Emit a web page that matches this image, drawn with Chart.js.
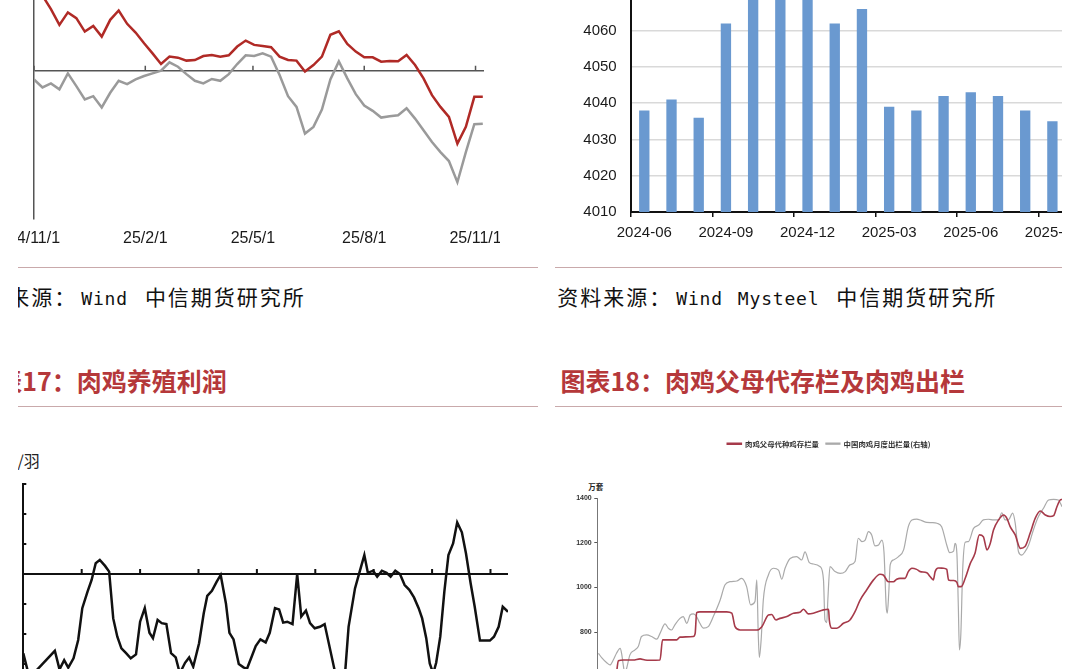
<!DOCTYPE html>
<html lang="zh-CN">
<head>
<meta charset="utf-8">
<title>肉鸡养殖利润 / 肉鸡父母代存栏及肉鸡出栏</title>
<script src="https://cdn.jsdelivr.net/npm/chart.js@4.4.1/dist/chart.umd.min.js"></script>
<style>
  html, body { margin: 0; padding: 0; background: #fff; }
  body { width: 1080px; height: 669px; overflow: hidden; position: relative; font-family: "Noto Sans CJK SC", sans-serif; }
  .col { position: absolute; top: 0; height: 669px; overflow: hidden; }
  .inner { position: absolute; top: 0; width: 1120px; height: 669px; }
  canvas { position: absolute; }
  .rule { position: absolute; height: 0; border-top: 1.5px solid #c9a9ab; }
  .src { position: absolute; white-space: nowrap; color: #111; line-height: 24px; }
  .cj { font-family: "Noto Sans CJK SC"; font-size: 21px; letter-spacing: 2px; }
  .la { font-family: "DejaVu Sans Mono"; font-size: 18px; letter-spacing: 0.8px; }
  .ttl { position: absolute; white-space: nowrap; color: #b5383a; font-weight: bold; font-size: 25px; line-height: 26px; }
  .unit { position: absolute; white-space: nowrap; color: #222; }
</style>
</head>
<body>

<div class="col" style="left:18px; width:527px;">
  <div class="inner" style="left:-18px;">
    <canvas id="chartA" width="500" height="340" style="left:0; top:-90px; width:500px; height:340px;"></canvas>
    <div class="rule" style="left:0; width:538px; top:267px;"></div>
    <div class="src" style="left:-37.7px; top:284px;"><span class="cj">资料来源：</span><span class="la" style="margin-left:4px">Wind</span><span class="cj" style="margin-left:17px">中信期货研究所</span></div>
    <div class="ttl" style="left:-27.7px; top:367px;">图表17：肉鸡养殖利润</div>
    <div class="rule" style="left:0; width:538px; top:406px;"></div>
    <div class="unit" style="left:1.6px; top:452px; font-size:16px; line-height:17px;">元/羽</div>
    <canvas id="chartC" width="540" height="260" style="left:0; top:440px; width:540px; height:260px;"></canvas>
  </div>
</div>

<div class="col" style="left:548px; width:514px;">
  <div class="inner" style="left:-548px;">
    <canvas id="chartB" width="560" height="310" style="left:560px; top:-60px; width:560px; height:310px;"></canvas>
    <div class="rule" style="left:555px; width:520px; top:267px;"></div>
    <div class="src" style="left:557.3px; top:284px;"><span class="cj">资料来源：</span><span class="la" style="margin-left:4px">Wind</span><span class="la" style="margin-left:15px">Mysteel</span><span class="cj" style="margin-left:17px">中信期货研究所</span></div>
    <div class="ttl" style="left:560.5px; top:367px;">图表18：肉鸡父母代存栏及肉鸡出栏</div>
    <div class="rule" style="left:555px; width:520px; top:406px;"></div>
    <div class="unit" style="left:588.3px; top:482px; font-size:7.5px; line-height:9px; font-weight:bold;">万套</div>
    <canvas id="chartD" width="560" height="257" style="left:560px; top:420px; width:560px; height:257px;"></canvas>
  </div>
</div>

<script>
// ---- top-left: weekly series (y labels are cut off in the source image) ----
const weekDates = [
  '2024-11-01','2024-11-08','2024-11-15','2024-11-22','2024-11-29','2024-12-06','2024-12-13','2024-12-20','2024-12-27',
  '2025-01-03','2025-01-10','2025-01-17','2025-01-24','2025-01-31','2025-02-07','2025-02-14','2025-02-21','2025-02-28',
  '2025-03-07','2025-03-14','2025-03-21','2025-03-28','2025-04-04','2025-04-11','2025-04-18','2025-04-25',
  '2025-05-02','2025-05-09','2025-05-16','2025-05-23','2025-05-30','2025-06-06','2025-06-13','2025-06-20','2025-06-27',
  '2025-07-04','2025-07-11','2025-07-18','2025-07-25','2025-08-01','2025-08-08','2025-08-15','2025-08-22','2025-08-29',
  '2025-09-05','2025-09-12','2025-09-19','2025-09-26','2025-10-03','2025-10-10','2025-10-17','2025-10-24','2025-10-31','2025-11-07'
];
const redWeekly = [5.5, 5.06, 4.15, 3.09, 3.93, 3.54, 2.64, 3.02, 2.30, 3.43, 4.06, 3.16, 2.57, 1.85, 1.17, 0.45, 0.95, 0.88,
  0.68, 0.72, 0.99, 1.06, 0.95, 1.04, 1.63, 2.03, 1.74, 1.67, 1.58, 0.95, 0.72, 0.68, -0.05, 0.38, 0.95, 2.42, 2.66, 1.81,
  1.29, 0.90, 0.90, 0.61, 0.65, 0.63, 1.06, 0.38, -0.52, -1.65, -2.44, -3.12, -4.92, -3.79, -1.76, -1.76];
const grayWeekly = [-0.59, -1.13, -0.86, -1.26, -0.18, -1.04, -1.94, -1.72, -2.48, -1.49, -0.68, -0.90, -0.59, -0.36, -0.18, 0.00,
  0.56, 0.27, -0.23, -0.68, -0.86, -0.56, -0.68, -0.23, 0.45, 1.04, 0.99, 1.17, 0.95, -0.29, -1.72, -2.44, -4.24, -3.79, -2.62,
  -0.59, 0.63, -0.52, -1.58, -2.35, -2.71, -3.16, -3.07, -3.00, -2.53, -3.23, -4.02, -4.81, -5.49, -6.09, -7.52, -5.49, -3.61, -3.57];
const weekTickDates = ['2024-11-01', '2025-02-01', '2025-05-01', '2025-08-01', '2025-11-01'];
const weekTickLabels = ['24/11/1', '25/2/1', '25/5/1', '25/8/1', '25/11/1'];
const weekAxisEnd = '2025-11-08';

// ---- top-right: monthly bars ----
const barMonths = ['2024-06','2024-07','2024-08','2024-09','2024-10','2024-11','2024-12','2025-01',
  '2025-02','2025-03','2025-04','2025-05','2025-06','2025-07','2025-08','2025-09'];
const barValues = [4038, 4041, 4036, 4062, 4071, 4074, 4072, 4062, 4066, 4039, 4038, 4042, 4043, 4042, 4038, 4035];

// ---- bottom-left: 肉鸡养殖利润 (元/羽), time in decimal years ----
const profitTime = [2017.50, 2017.60, 2017.73, 2018.04, 2018.12, 2018.20, 2018.27, 2018.36, 2018.44, 2018.51,
  2018.60, 2018.67, 2018.74, 2018.81, 2018.90, 2018.97, 2019.04, 2019.11, 2019.18, 2019.26,
  2019.34, 2019.43, 2019.50, 2019.58, 2019.66, 2019.72, 2019.80, 2019.87, 2019.95, 2020.03,
  2020.11, 2020.18, 2020.27, 2020.34, 2020.41, 2020.51, 2020.59, 2020.65, 2020.73, 2020.81,
  2020.88, 2020.97, 2021.03, 2021.10, 2021.19, 2021.27, 2021.33, 2021.41, 2021.48, 2021.56,
  2021.65, 2021.72, 2021.81, 2021.88, 2021.95, 2022.02, 2022.11, 2022.19, 2022.26, 2022.34,
  2022.41, 2022.49, 2022.58, 2022.66, 2022.83, 2022.92, 2023.01, 2023.07, 2023.18, 2023.26,
  2023.34, 2023.40, 2023.49, 2023.56, 2023.64, 2023.72, 2023.79, 2023.87, 2023.95, 2024.03,
  2024.11, 2024.19, 2024.27, 2024.33, 2024.40, 2024.46, 2024.52, 2024.57, 2024.64, 2024.71,
  2024.78, 2024.86, 2024.93, 2025.01, 2025.08, 2025.16, 2025.23, 2025.32, 2025.49, 2025.56,
  2025.64, 2025.71, 2025.80];
const profitValue = [-2.64, -3.42, -3.20, -2.56, -3.18, -2.87, -3.12, -2.81, -2.20, -1.14,
  -0.59, -0.20, 0.36, 0.47, 0.27, 0.08, -1.48, -2.09, -2.48, -2.64,
  -2.81, -2.68, -1.59, -1.14, -1.96, -2.14, -1.53, -1.64, -1.67, -2.64,
  -2.78, -3.31, -2.96, -2.78, -3.09, -2.31, -1.31, -0.73, -0.56, -0.26,
  -0.03, -0.98, -1.96, -2.18, -3.00, -3.11, -3.16, -2.76, -2.40, -2.18,
  -2.28, -1.96, -1.14, -1.18, -1.62, -1.59, -1.67, 0.00, -1.42, -1.22,
  -1.64, -1.81, -1.76, -1.67, -3.20, -3.64, -3.31, -1.76, -0.48, 0.08,
  0.63, 0.04, 0.11, -0.09, 0.11, 0.04, -0.09, 0.11, 0.00, -0.37,
  -0.53, -0.78, -1.14, -1.48, -2.14, -2.98, -3.31, -2.96, -2.09, -0.59,
  0.63, 1.02, 1.72, 1.39, 0.69, -0.31, -1.09, -2.22, -2.22, -2.09,
  -1.76, -1.09, -1.26];
const profitTicks = [2018.5, 2019.5, 2020.5, 2021.5, 2022.5, 2023.5, 2024.5, 2025.5];

// ---- bottom-right: 父母代种鸡存栏 (万套, left) / 肉鸡月度出栏 (right axis) ----
const stockTime = [2013.53, 2013.58, 2013.72, 2013.99, 2014.18, 2014.32, 2014.45, 2014.73, 2014.80, 2014.87,
  2015.19, 2015.28, 2015.65, 2015.70, 2015.74, 2015.83, 2016.57, 2016.71, 2016.80, 2016.94,
  2017.40, 2017.54, 2017.72, 2017.81, 2017.93, 2018.04, 2018.23, 2018.41, 2018.59, 2018.69,
  2018.82, 2018.96, 2019.24, 2019.38, 2019.40, 2019.47, 2019.61, 2019.79, 2019.97, 2020.11,
  2020.25, 2020.43, 2020.62, 2020.80, 2020.89, 2021.03, 2021.17, 2021.26, 2021.35, 2021.49,
  2021.58, 2021.68, 2021.81, 2021.91, 2022.09, 2022.18, 2022.27, 2022.32, 2022.41, 2022.55,
  2022.64, 2022.69, 2022.83, 2022.92, 2022.96, 2023.04, 2023.15, 2023.29, 2023.42, 2023.54,
  2023.65, 2023.75, 2023.84, 2023.93, 2024.07, 2024.21, 2024.30, 2024.39, 2024.53, 2024.67,
  2024.80, 2024.94, 2025.08, 2025.22, 2025.36, 2025.49, 2025.59, 2025.68, 2025.77, 2025.82];
const stockValue = [617, 673, 676, 676, 681, 676, 675, 676, 766, 766,
  766, 778, 781, 795, 888, 891, 891, 885, 825, 810,
  810, 825, 877, 879, 855, 862, 870, 885, 889, 903,
  882, 885, 900, 903, 855, 818, 818, 840, 855, 892,
  944, 989, 1034, 1059, 1056, 1026, 1026, 1037, 1041, 1041,
  1071, 1086, 1081, 1071, 1066, 1049, 1034, 1071, 1087, 1086,
  1081, 1034, 1031, 1023, 1004, 1004, 1041, 1108, 1153, 1235,
  1227, 1168, 1197, 1257, 1302, 1324, 1309, 1272, 1235, 1175,
  1183, 1242, 1309, 1342, 1324, 1317, 1321, 1361, 1391, 1394];
const outputTime = [2013.03, 2013.12, 2013.26, 2013.35, 2013.44, 2013.53, 2013.63, 2013.67, 2013.72, 2013.76,
  2013.81, 2013.90, 2014.04, 2014.13, 2014.22, 2014.36, 2014.50, 2014.64, 2014.73, 2014.87,
  2014.96, 2015.05, 2015.14, 2015.28, 2015.37, 2015.47, 2015.56, 2015.65, 2015.74, 2015.83,
  2015.93, 2016.06, 2016.20, 2016.39, 2016.52, 2016.66, 2016.85, 2016.98, 2017.12, 2017.23,
  2017.35, 2017.40, 2017.44, 2017.47, 2017.52, 2017.58, 2017.72, 2017.86, 2018.00, 2018.09,
  2018.18, 2018.32, 2018.50, 2018.64, 2018.73, 2018.85, 2018.96, 2019.15, 2019.24, 2019.28,
  2019.33, 2019.36, 2019.42, 2019.56, 2019.70, 2019.84, 2019.97, 2020.11, 2020.20, 2020.30,
  2020.39, 2020.48, 2020.57, 2020.66, 2020.76, 2020.85, 2020.91, 2020.97, 2021.00, 2021.04,
  2021.08, 2021.17, 2021.31, 2021.45, 2021.58, 2021.68, 2021.81, 2021.95, 2022.09, 2022.23,
  2022.37, 2022.50, 2022.64, 2022.72, 2022.83, 2022.87, 2022.92, 2022.96, 2022.99, 2023.03,
  2023.08, 2023.15, 2023.24, 2023.38, 2023.52, 2023.65, 2023.79, 2023.93, 2024.07, 2024.16,
  2024.25, 2024.34, 2024.46, 2024.53, 2024.62, 2024.71, 2024.80, 2024.90, 2025.03, 2025.17,
  2025.31, 2025.45, 2025.59, 2025.72, 2025.82];
const outputValue = [5.06, 4.87, 4.64, 4.54, 4.76, 5.06, 5.28, 5.06, 4.50, 4.17,
  4.39, 4.99, 5.21, 5.36, 5.81, 5.88, 5.81, 5.69, 5.95, 6.37,
  6.18, 6.10, 6.33, 6.62, 6.70, 6.40, 6.77, 6.82, 6.70, 6.40,
  6.18, 6.25, 6.70, 7.44, 8.11, 8.26, 8.29, 8.41, 8.04, 7.22,
  7.37, 8.34, 5.95, 4.88, 5.66, 7.44, 8.56, 8.86, 8.78, 8.37,
  8.86, 9.30, 9.38, 9.23, 9.59, 9.11, 9.05, 8.93, 8.34, 6.55,
  6.43, 7.44, 8.93, 8.71, 8.63, 8.71, 9.01, 9.16, 10.20, 10.05,
  10.12, 10.50, 10.35, 9.86, 9.90, 10.12, 9.56, 7.15, 6.85, 7.74,
  9.01, 9.23, 9.38, 9.68, 10.72, 11.02, 11.06, 10.99, 10.91, 10.90,
  10.87, 10.72, 9.90, 9.56, 9.63, 9.97, 9.53, 7.15, 5.21, 5.95,
  8.78, 10.02, 10.05, 10.64, 10.79, 11.02, 11.05, 11.02, 11.02, 11.34,
  11.02, 11.02, 11.32, 10.87, 9.60, 9.45, 9.60, 9.90, 10.57, 11.17,
  11.54, 11.91, 11.94, 11.91, 11.61];
const legendNames = ['肉鸡父母代种鸡存栏量', '中国肉鸡月度出栏量(右轴)'];

Chart.defaults.font.family = "'Liberation Sans', Arial, sans-serif";
Chart.defaults.animation = false;
Chart.defaults.plugins.tooltip.enabled = false;
Chart.defaults.events = [];

const dayOf = d => (Date.parse(d) - Date.parse(weekDates[0])) / 86400000;
const pairs = (xs, ys) => xs.map((x, i) => ({ x: x, y: ys[i] }));
const clear = 'rgba(0,0,0,0)';
// keep the plot area where the padding puts it (no extra room for overhanging labels)
const noOverhang = s => { s.paddingTop = 0; s.paddingBottom = 0; s.paddingLeft = 0; s.paddingRight = 0; };

// short tick marks sitting on the zero line / inside the y axis
const innerTicks = {
  id: 'innerTicks',
  afterDatasetsDraw(chart, args, opts) {
    const { ctx, scales: { x, y }, chartArea } = chart;
    const base = y.getPixelForValue(opts.at);
    ctx.save();
    ctx.strokeStyle = opts.color;
    ctx.lineWidth = opts.width;
    ctx.beginPath();
    (opts.xValues || []).forEach(v => {
      const px = x.getPixelForValue(v);
      ctx.moveTo(px, base);
      ctx.lineTo(px, base - opts.xLen);
    });
    if (opts.yLen) {
      y.ticks.forEach(t => {
        const py = y.getPixelForValue(t.value);
        ctx.moveTo(chartArea.left, py);
        ctx.lineTo(chartArea.left + opts.yLen, py);
      });
    }
    ctx.stroke();
    ctx.restore();
  }
};

// 1. top-left weekly lines
new Chart(document.getElementById('chartA'), {
  type: 'line',
  data: {
    datasets: [
      { data: pairs(weekDates.map(dayOf), redWeekly), borderColor: '#b02a26', borderWidth: 2.5, pointRadius: 0, tension: 0 },
      { data: pairs(weekDates.map(dayOf), grayWeekly), borderColor: '#9a9a9a', borderWidth: 2.5, pointRadius: 0, tension: 0 }
    ]
  },
  options: {
    responsive: false,
    layout: { padding: { left: 34, right: 16, top: 12.4, bottom: 0 } },
    plugins: {
      legend: { display: false },
      innerTicks: { at: 0, xValues: weekTickDates.map(dayOf), xLen: 5, color: '#555', width: 1.5 }
    },
    scales: {
      x: {
        type: 'linear', min: 0, max: dayOf(weekAxisEnd),
        afterBuildTicks: s => { s.ticks = weekTickDates.map(d => ({ value: dayOf(d) })); },
        afterFit: s => { s.height = 31; noOverhang(s); },
        grid: { display: false, drawTicks: false },
        border: { display: false },
        ticks: {
          autoSkip: false, maxRotation: 0, padding: 10, color: '#1a1a1a', font: { size: 16 },
          callback: v => weekTickLabels[weekTickDates.map(dayOf).indexOf(v)]
        }
      },
      y: {
        min: -10, max: 10,
        ticks: { display: false, stepSize: 5 },
        afterFit: s => { s.width = 0; noOverhang(s); },
        grid: { drawTicks: false, lineWidth: 1.5, color: c => (c.tick && c.tick.value === 0 ? '#555' : clear) },
        border: { color: '#555', width: 1.5 }
      }
    }
  },
  plugins: [innerTicks]
});

// 2. top-right bars
new Chart(document.getElementById('chartB'), {
  type: 'bar',
  data: {
    labels: barMonths,
    datasets: [{ data: barValues, backgroundColor: '#6a99d0', barPercentage: 0.38, categoryPercentage: 1 }]
  },
  options: {
    responsive: false,
    layout: { padding: { left: 0, right: 54, top: 18.1, bottom: 0 } },
    plugins: { legend: { display: false } },
    scales: {
      x: {
        offset: true,
        afterFit: s => { s.height = 38; noOverhang(s); },
        grid: { offset: true, drawOnChartArea: false, drawTicks: true, tickLength: 5, lineWidth: 1.5,
                color: c => (c.index % 3 === 0 ? '#111' : clear) },
        border: { color: '#111', width: 2 },
        ticks: {
          autoSkip: false, maxRotation: 0, padding: 7, color: '#1a1a1a', font: { size: 15 },
          callback: function (v, i) { return i % 3 === 0 ? this.getLabelForValue(v) : ''; }
        }
      },
      y: {
        min: 4010, max: 4080,
        afterFit: s => { s.width = 70.7; noOverhang(s); },
        ticks: { stepSize: 10, padding: 14, color: '#1a1a1a', font: { size: 15 }, callback: v => String(v) },
        grid: { drawTicks: false, lineWidth: 1.5, color: c => (c.tick && c.tick.value === 4010 ? clear : '#d9d9d9') },
        border: { color: '#111', width: 2 }
      }
    }
  }
});

// 3. bottom-left profit line
new Chart(document.getElementById('chartC'), {
  type: 'line',
  data: {
    datasets: [{ data: pairs(profitTime, profitValue), borderColor: '#111', borderWidth: 2.5, pointRadius: 0, tension: 0 }]
  },
  options: {
    responsive: false,
    layout: { padding: { left: 23.3, right: 32, top: 44, bottom: 6 } },
    plugins: {
      legend: { display: false },
      innerTicks: { at: 0, xValues: profitTicks, xLen: 5, yLen: 3, color: '#111', width: 2 }
    },
    scales: {
      x: { type: 'linear', min: 2017.5, max: 2025.8, display: false },
      y: {
        min: -4, max: 3,
        ticks: { display: false, stepSize: 1 },
        afterFit: s => { s.width = 0; noOverhang(s); },
        grid: { drawTicks: false, lineWidth: 2, color: c => (c.tick && c.tick.value === 0 ? '#111' : clear) },
        border: { color: '#111', width: 2 }
      }
    }
  },
  plugins: [innerTicks]
});

// 4. bottom-right dual-axis lines
const legendGap = {
  id: 'legendGap',
  beforeInit(chart) {
    const fit = chart.legend.fit;
    chart.legend.fit = function () { fit.call(this); this.height = 65; };
  }
};
new Chart(document.getElementById('chartD'), {
  type: 'line',
  data: {
    datasets: [
      { label: legendNames[0], data: pairs(stockTime, stockValue), yAxisID: 'y',
        borderColor: '#a63a4a', backgroundColor: '#a63a4a', borderWidth: 1.6, pointRadius: 0, cubicInterpolationMode: 'monotone' },
      { label: legendNames[1], data: pairs(outputTime, outputValue), yAxisID: 'y2',
        borderColor: '#aaaaaa', backgroundColor: '#aaaaaa', borderWidth: 1.2, pointRadius: 0, cubicInterpolationMode: 'monotone' }
    ]
  },
  options: {
    responsive: false,
    layout: { padding: { left: 35.8, right: 58, top: 13, bottom: 0 } },
    plugins: {
      legend: {
        display: true, position: 'top',
        labels: { boxWidth: 14, boxHeight: 1, padding: 7, color: '#333',
                  font: { family: "'Noto Sans CJK SC'", size: 7.4, weight: 'bold' } }
      }
    },
    scales: {
      x: { type: 'linear', min: 2013.0, max: 2025.82, display: false },
      y: {
        min: 600, max: 1400,
        // narrow axis box so the legend stays centred; let the labels spill into the padding
        afterFit: s => { s.width = 1.5; noOverhang(s); s._computeLabelArea = () => undefined; },
        ticks: { stepSize: 200, padding: 2.6, color: '#333', font: { size: 7, weight: 'bold' }, callback: v => String(v) },
        grid: { drawOnChartArea: false, drawTicks: true, tickLength: 3, color: '#555' },
        border: { color: '#777', width: 1 }
      },
      y2: { position: 'right', min: 4, max: 12, display: false }
    }
  },
  plugins: [legendGap]
});
</script>
</body>
</html>
